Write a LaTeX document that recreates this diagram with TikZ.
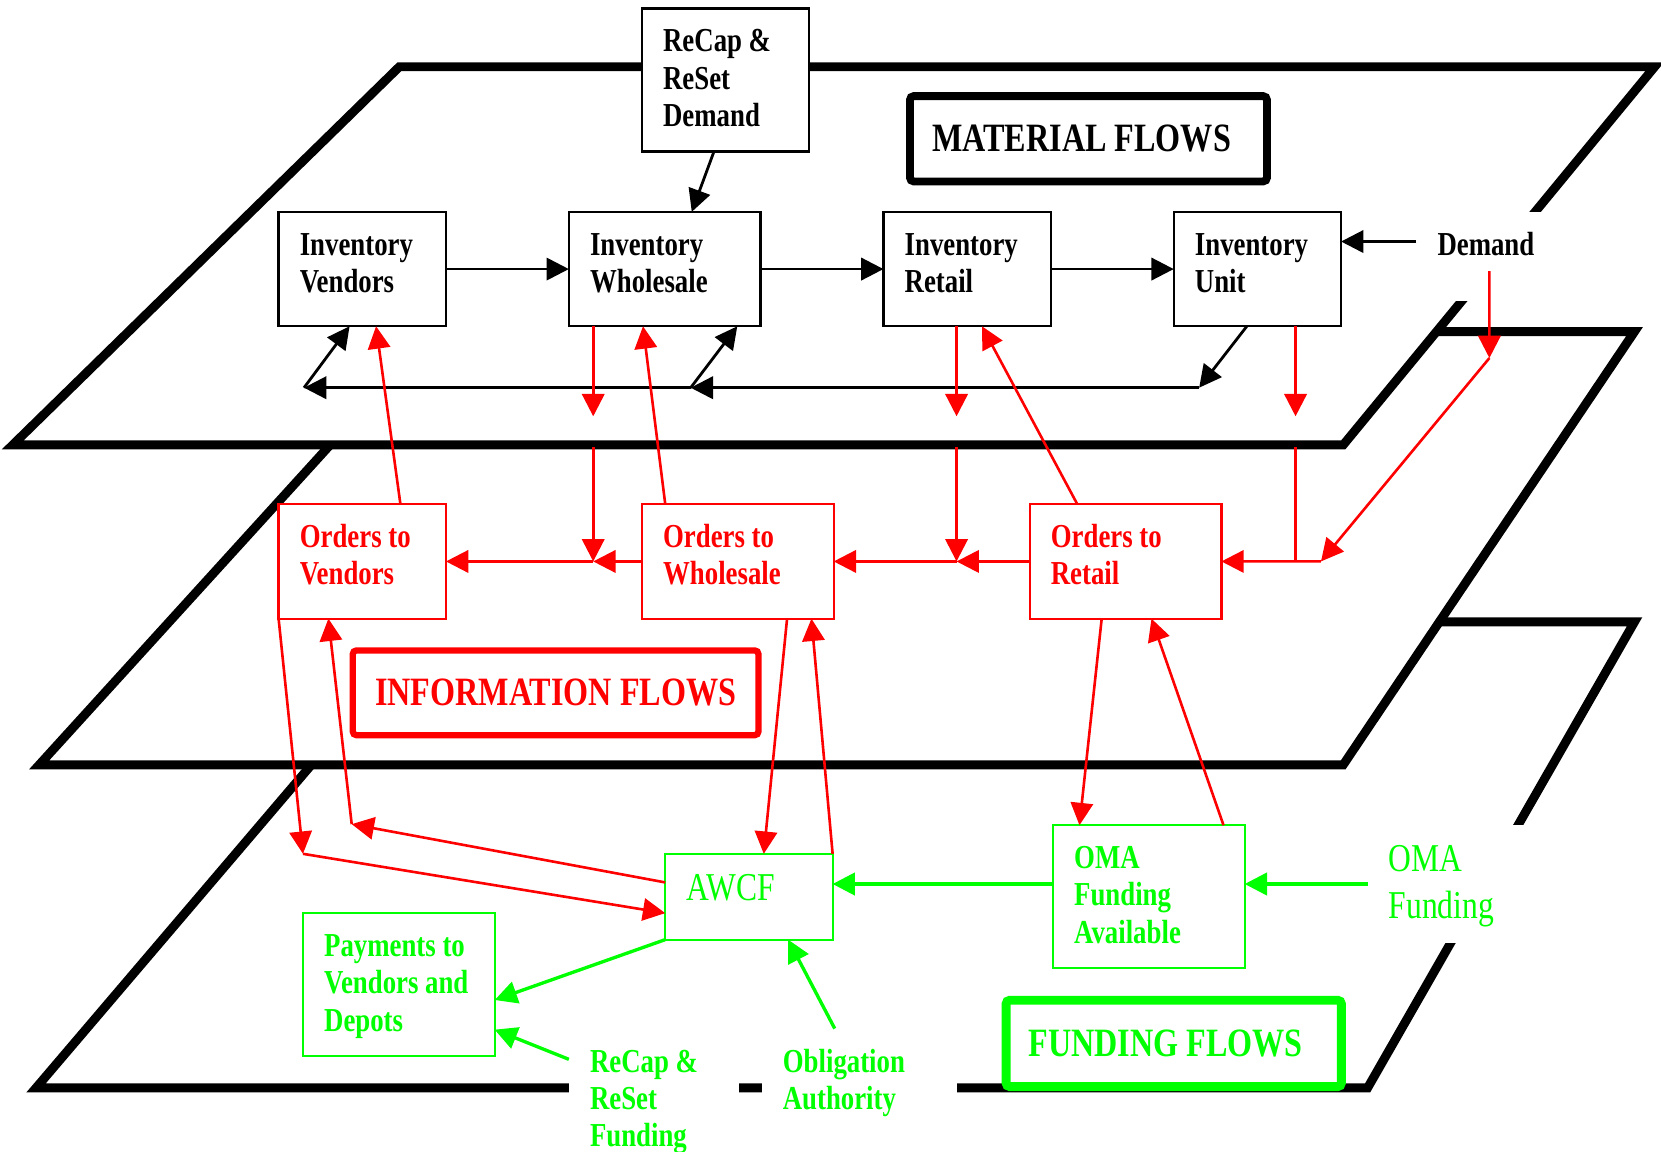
\documentclass[tikz,border=0pt]{standalone}
\usepackage{fontspec}
\setmainfont{Liberation Serif}[FakeStretch=0.8]
\usepackage{tikz}
\usetikzlibrary{arrows.meta, positioning}

\begin{document}
\begin{tikzpicture}[
    plane/.style={draw=black, fill=white, line width=2.4pt},
    card/.style={rectangle, fill=white, line width=0.6pt, outer sep=0pt, inner xsep=0.2cm, inner ysep=0.2cm, align=flush left, text height=0.21cm, font=\fontsize{9}{10}\selectfont\bfseries},
    matbox/.style={card, draw=black},
    infobox/.style={card, draw=red, text=red},
    fundbox/.style={card, draw=green, text=green},
    narrow/.style={text width=1.18cm},
    wide/.style={text width=1.41cm},
    two/.style={text depth=0.47cm},
    three/.style={text depth=0.74cm},
    plain/.style={font=\fontsize{10.6}{12.5}\selectfont, text height=0.24cm},
    flows/.style={rectangle, fill=white, rounded corners=1pt, outer sep=0pt, inner xsep=0.21cm, inner ysep=0pt, align=flush left, font=\fontsize{10.8}{12}\selectfont\bfseries},
    mline/.style={draw=black, line width=0.75pt, -{Triangle[length=6pt, width=6pt]}},
    iline/.style={draw=red, line width=0.7pt, -{Triangle[length=6pt, width=6pt]}},
    fline/.style={draw=green, line width=0.9pt, -{Triangle[length=6pt, width=6pt]}}
]
    \useasboundingbox (0,0) rectangle (15.68,10.87);

    % Layers, back to front
    \draw[plane] (0.34,0.60) -- (12.91,0.60) -- (15.43,5.00) -- (4.09,5.00) -- cycle;
    \draw[plane] (0.37,3.65) -- (12.68,3.65) -- (15.43,7.74) -- (4.09,7.74) -- cycle;
    \draw[plane] (0.12,6.67) -- (12.68,6.67) -- (15.62,10.24) -- (3.77,10.24) -- cycle;

    % Material flows
    \node[matbox, narrow, two, anchor=north west] (IV) at (2.63,8.87) {Inventory\\Vendors};
    \node[matbox, wide, two, right=1.16cm of IV] (IW) {Inventory\\Wholesale};
    \node[matbox, narrow, two, right=1.16cm of IW] (IR) {Inventory\\Retail};
    \node[matbox, narrow, two, right=1.16cm of IR] (IU) {Inventory\\Unit};
    \node[matbox, narrow, three, anchor=north west] (RDem) at (6.06,10.79) {ReCap~\&\\ReSet\\Demand};
    \node[card, narrow, text depth=0.23cm, right=0.71cm of IU.north east, anchor=north west] (Dem) {Demand};
    \node[flows, draw=black, line width=2.1pt, text width=2.95cm, minimum height=0.805cm] (MatFlows) at (10.275,9.56) {MATERIAL~FLOWS};

    % Information flows
    \node[infobox, narrow, two, below=1.68cm of IV] (OV) {Orders~to\\Vendors};
    \node[infobox, wide, two, right=1.85cm of OV] (OW) {Orders~to\\Wholesale};
    \node[infobox, wide, two, right=1.85cm of OW] (OR) {Orders~to\\Retail};
    \node[flows, draw=red, text=red, line width=1.7pt, text width=3.41cm, minimum height=0.80cm] (InfoFlows) at (5.245,4.33) {INFORMATION~FLOWS};

    % Funding flows
    \node[fundbox, narrow, plain, text depth=0.17cm, anchor=north west] (AWCF) at (6.28,2.81) {AWCF};
    \node[fundbox, wide, three, anchor=north west] (Pay) at (2.86,2.25) {Payments~to\\Vendors~and\\Depots};
    \node[fundbox, wide, three, anchor=north west] (OMAA) at (9.94,3.08) {OMA\\Funding\\Available};
    \node[card, wide, plain, text=green, text depth=0.47cm, right=1.16cm of OMAA.north east, anchor=north west] (OMAF) {OMA\\Funding};
    \node[card, text width=1.21cm, three, text=green, anchor=north west] (RFund) at (5.37,1.16) {ReCap~\&\\ReSet\\Funding};
    \node[card, text width=1.44cm, two, text=green, right=0.21cm of RFund.north east, anchor=north west] (OblA) {Obligation\\Authority};
    \node[flows, draw=green, text=green, line width=2.4pt, text width=2.745cm, minimum height=0.815cm] (FundFlows) at (11.08,1.02) {FUNDING~FLOWS};

    % Junctions
    \coordinate (jU) at (11.32,7.21);
    \coordinate (jW) at (6.52,7.21);
    \coordinate (jV) at (2.87,7.21);
    \coordinate (cutA) at (0,6.94);
    \coordinate (cutB) at (0,6.65);
    \coordinate (dA) at (14.06,7.49);
    \coordinate (jD) at (12.47,5.57);
    \coordinate (jP1) at (2.86,2.81);
    \coordinate (jP2) at (3.32,3.09);
    \coordinate (oW) at ([xshift=0.23cm]IW.south west |- OW.west);
    \coordinate (oR) at ([xshift=0.69cm]IR.south west |- OR.west);

    % Material connectors
    \draw[mline] (IV) -- (IW);
    \draw[mline] (IW) -- (IR);
    \draw[mline] (IR) -- (IU);
    \draw[mline] ([yshift=-0.28cm]Dem.north west) -- ([yshift=-0.28cm]IU.north east);
    \draw[mline] ([xshift=0.68cm]RDem.south west) -- ([xshift=1.16cm]IW.north west);
    \draw[mline] ([xshift=0.69cm]IU.south west) -- (jU);
    \draw[mline] (jU) -- (jW);
    \draw[mline] (jW) -- (jV);
    \draw[mline] (jW) -- ([xshift=1.59cm]IW.south west);
    \draw[mline] (jV) -- ([xshift=0.67cm]IV.south west);

    % Information connectors
    \draw[iline] ([xshift=1.15cm]OV.north west) -- ([xshift=0.92cm]IV.south west);
    \draw[iline] ([xshift=0.22cm]OW.north west) -- ([xshift=0.70cm]IW.south west);
    \draw[iline] ([xshift=0.45cm]OR.north west) -- ([xshift=0.93cm]IR.south west);
    \draw[iline] ([xshift=0.23cm]IW.south west) -- ([xshift=0.23cm]IW.south west |- cutA);
    \draw[iline] ([xshift=0.23cm]IW.south west |- cutB) -- (oW);
    \draw[iline] ([xshift=0.69cm]IR.south west) -- ([xshift=0.69cm]IR.south west |- cutA);
    \draw[iline] ([xshift=0.69cm]IR.south west |- cutB) -- (oR);
    \draw[iline] ([xshift=1.15cm]IU.south west) -- ([xshift=1.15cm]IU.south west |- cutA);
    \draw[draw=red, line width=0.7pt] ([xshift=1.15cm]IU.south west |- cutB) -- ([xshift=1.15cm]IU.south west |- OR.east);
    \draw[iline] ([xshift=0.69cm, yshift=-0.56cm]Dem.north west) -- (dA);
    \draw[iline] (dA) -- (jD);
    \draw[iline] (jD) -- (OR);
    \draw[iline] (OR) -- (oR);
    \draw[iline] (oR) -- (OW);
    \draw[iline] (OW) -- (oW);
    \draw[iline] (oW) -- (OV);

    \draw[iline] (OV.south west) -- (jP1);
    \draw[iline] (jP1) -- ([yshift=-0.56cm]AWCF.north west);
    \draw[iline] ([yshift=-0.27cm]AWCF.north west) -- (jP2);
    \draw[iline] (jP2) -- ([xshift=0.47cm]OV.south west);
    \draw[iline] ([xshift=1.37cm]OW.south west) -- ([xshift=0.93cm]AWCF.north west);
    \draw[iline] (AWCF.north east) -- ([xshift=1.60cm]OW.south west);
    \draw[iline] ([xshift=0.68cm]OR.south west) -- ([xshift=0.25cm]OMAA.north west);
    \draw[iline] ([xshift=1.61cm]OMAA.north west) -- ([xshift=1.15cm]OR.south west);

    % Funding connectors
    \draw[fline] (OMAF.west) -- (OMAA.east |- OMAF.west);
    \draw[fline] (OMAA.west |- OMAF.west) -- (AWCF.east |- OMAF.west);
    \draw[fline] (AWCF.south west) -- ([yshift=-0.82cm]Pay.north east);
    \draw[fline] ([yshift=-0.29cm]RFund.north west) -- ([yshift=-1.10cm]Pay.north east);
    \draw[fline] ([xshift=0.69cm]OblA.north west) -- ([xshift=1.16cm]AWCF.south west);
\end{tikzpicture}
\end{document}
